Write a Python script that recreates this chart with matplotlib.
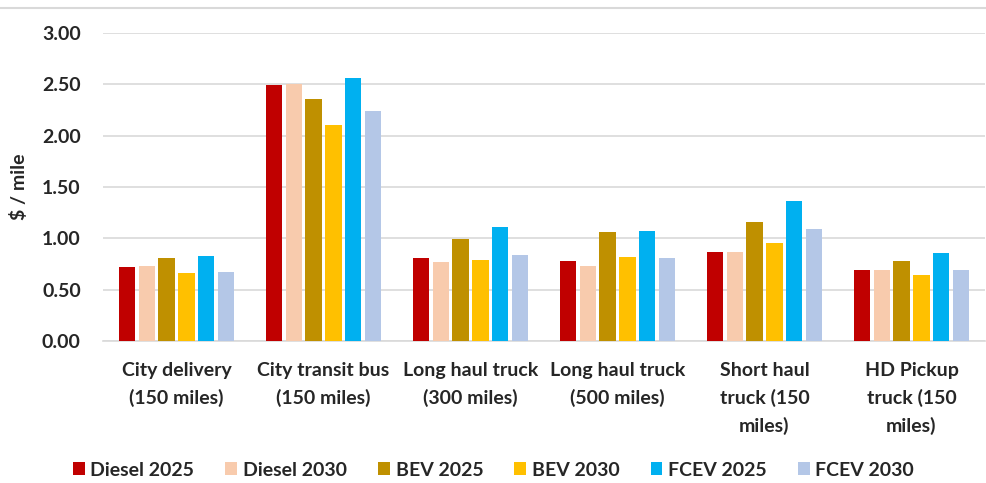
import numpy as np
import matplotlib.pyplot as plt
from matplotlib.lines import Line2D

plt.rcParams['font.family'] = ['Lato', 'DejaVu Sans']

categories = ['City delivery\n(150 miles)', 'City transit bus\n(150 miles)',
              'Long haul truck\n(300 miles)', 'Long haul truck\n(500 miles)',
              'Short haul\ntruck (150\nmiles)', 'HD Pickup\ntruck (150\nmiles)']
series = ['Diesel 2025', 'Diesel 2030', 'BEV 2025', 'BEV 2030', 'FCEV 2025', 'FCEV 2030']
diesel_2025 = [0.72, 2.49, 0.81, 0.78, 0.87, 0.69]
diesel_2030 = [0.735, 2.50, 0.77, 0.73, 0.87, 0.69]
bev_2025 = [0.81, 2.36, 0.99, 1.06, 1.16, 0.78]
bev_2030 = [0.66, 2.105, 0.79, 0.82, 0.95, 0.64]
fcev_2025 = [0.83, 2.56, 1.11, 1.07, 1.36, 0.86]
fcev_2030 = [0.67, 2.245, 0.84, 0.81, 1.09, 0.69]
values = [diesel_2025, diesel_2030, bev_2025, bev_2030, fcev_2025, fcev_2030]
colors = ['#C00000', '#F8CBAD', '#BF9000', '#FFC000', '#00B0F0', '#B4C7E7']

fig = plt.figure(figsize=(9.87, 4.83), dpi=100)
ax = fig.add_axes([103 / 987, 1 - 341 / 483, 882 / 987, 308 / 483])

x = np.arange(len(categories))
pitch = 0.136
width = 0.109
for i, (name, vals, c) in enumerate(zip(series, values, colors)):
    ax.bar(x + (i - 2.5) * pitch, vals, width, color=c, label=name, zorder=3)

fs = 14
ax.set_xlim(-0.5, len(categories) - 0.5)
ax.set_ylim(0, 3.0)
ax.set_yticks(np.arange(0, 3.01, 0.5))
ax.set_yticklabels([f'{v:.2f}' for v in np.arange(0, 3.01, 0.5)],
                   fontsize=fs, fontweight='bold', color='#262626')
ax.set_xticks(x)
ax.set_xticklabels(categories, fontsize=fs, fontweight='bold', color='#262626',
                   linespacing=1.65, va='top')
ax.tick_params(axis='both', length=0)
ax.tick_params(axis='x', pad=15)
ax.tick_params(axis='y', pad=16)
ax.grid(axis='y', color='#D9D9D9', linewidth=1.2, zorder=0)
for s in ['top', 'right', 'left']:
    ax.spines[s].set_visible(False)
ax.spines['bottom'].set_color('#D9D9D9')
ax.spines['bottom'].set_linewidth(1.2)

ax.set_ylabel('$ / mile', fontsize=fs, fontweight='bold', color='#262626', labelpad=10)

fig.legend(loc='center', bbox_to_anchor=(0.5, 1 - 470 / 483), ncol=6, frameon=False,
           prop={'size': fs, 'weight': 'bold'}, handlelength=0.6, handleheight=0.6,
           handletextpad=0.3, columnspacing=1.6, labelcolor='#262626')

fig.add_artist(Line2D([0, 1], [1 - 8 / 483, 1 - 8 / 483], color='#D9D9D9', linewidth=1.5))

fig.savefig('out.png', dpi=100)
